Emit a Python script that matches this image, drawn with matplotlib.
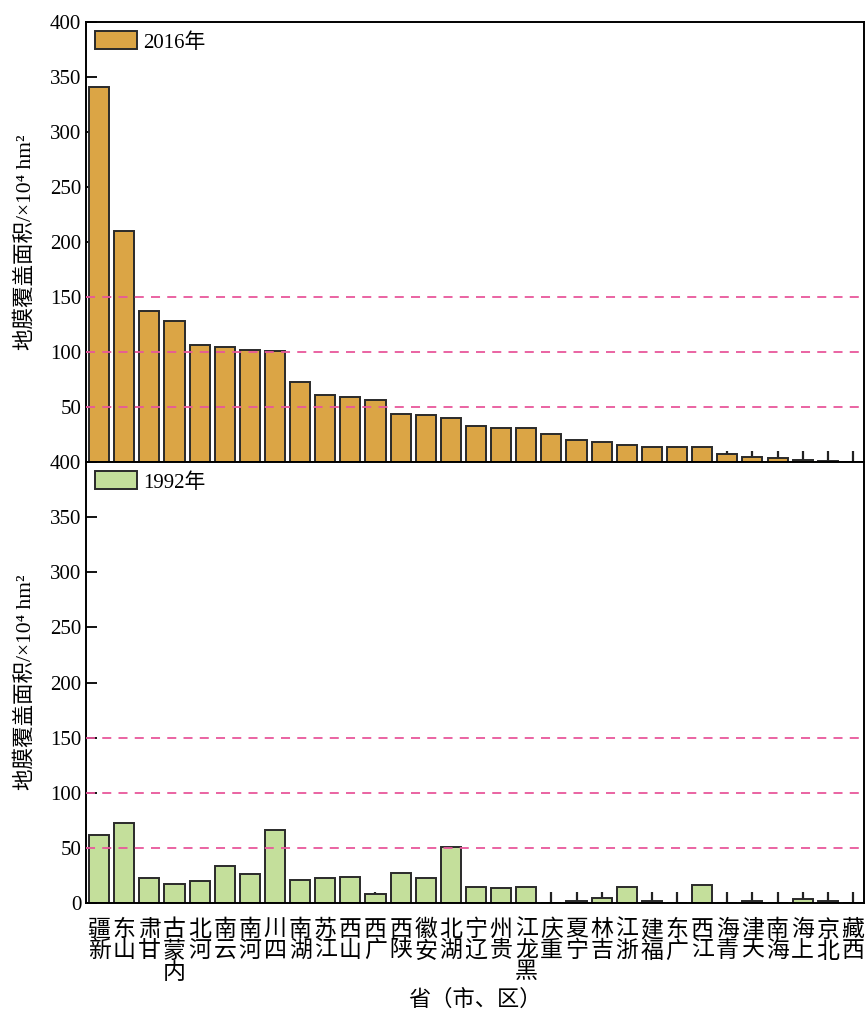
import matplotlib
matplotlib.use("Agg")
import matplotlib.pyplot as plt
import numpy as np

plt.rcParams['font.family'] = ['Liberation Serif', 'Noto Sans CJK SC', 'DejaVu Sans']

# provinces, sorted by 2016 area
provinces = ['新疆', '山东', '甘肃', '内蒙古', '河北', '云南', '河南', '四川', '湖南', '江苏',
             '山西', '广西', '陕西', '安徽', '湖北', '辽宁', '贵州', '黑龙江', '重庆', '宁夏',
             '吉林', '浙江', '福建', '广东', '江西', '青海', '天津', '海南', '上海', '北京', '西藏']

# film mulch area, 10^4 hm2
area_2016 = [341, 210, 137, 128, 106, 104.5, 102, 101, 73, 61,
             59, 56, 43.6, 43, 40, 33, 31, 30.5, 25.5, 20,
             18, 15.5, 14, 13.5, 13.5, 7, 5, 4, 1.8, 1, 0.3]
area_1992 = [61.8, 72.4, 22.4, 17, 20, 34, 26.6, 66, 21, 22.7,
             24, 8.5, 27, 22.7, 51, 14.2, 14, 14.5, 0, 1.5,
             4.8, 14.8, 2, 0, 16.4, 0.3, 2, 0, 3.6, 2.2, 0]
stem_top = 10      # little vertical marks under every bar
ref_lines = [50, 100, 150]

labels = ['2016年', '1992年']
colors = ['#DBA545', '#C4DF9B']
ylab = '地膜覆盖面积/×10⁴ hm²'

x = np.arange(len(provinces))

fig = plt.figure(figsize=(8.67, 10.11), dpi=100)
ax1 = fig.add_axes([86/867, 1 - 462/1011, 778/867, 440/1011])
ax2 = fig.add_axes([86/867, 1 - 903/1011, 778/867, 441/1011], sharex=ax1)

for ax, vals, lab, col in [(ax1, area_2016, labels[0], colors[0]),
                           (ax2, area_1992, labels[1], colors[1])]:
    ax.vlines(x, 0, stem_top, color='#222222', lw=1.6, zorder=1)
    ax.bar(x, vals, width=0.8, color=col, edgecolor='#2a2a2a', lw=1.4,
           label=lab, zorder=2)
    for v in ref_lines:
        ax.axhline(v, color='#E8579B', lw=1.3, ls=(0, (5, 4)), zorder=3)
    ax.set_ylim(0, 400)
    ax.set_xlim(-0.52, 30.44)
    ax.tick_params(axis='y', direction='in', length=8, width=1.3, labelsize=15)
    ax.tick_params(axis='x', length=0)
    for s in ax.spines.values():
        s.set_linewidth(1.4)
    ax.set_ylabel(ylab, fontsize=15.5, labelpad=10)
    ax.legend(loc='upper left', frameon=False, fontsize=15,
              handlelength=2.0, handleheight=0.95, handletextpad=0.3,
              borderaxespad=0.15, borderpad=0.3)

ax1.set_yticks(np.arange(50, 401, 50))
ax2.set_yticks(np.arange(0, 401, 50))
plt.setp(ax1.get_xticklabels(), visible=False)

ax2.set_xticks(x)
ax2.set_xticklabels(['\n'.join(reversed(p)) for p in provinces], fontsize=16.5,
                    linespacing=1.0, va='top')
ax2.tick_params(axis='x', pad=12)
ax2.set_xlabel('省（市、区）', fontsize=16, labelpad=4)

fig.savefig('out.png', dpi=100)
